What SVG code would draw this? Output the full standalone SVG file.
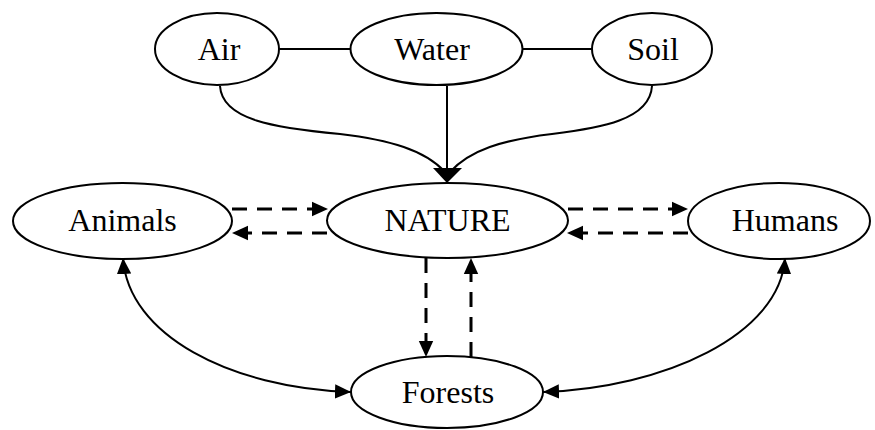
<svg xmlns="http://www.w3.org/2000/svg" width="875" height="430" viewBox="0 0 875 430">
  <style>
    .node ellipse { fill: #ffffff; stroke: #000000; stroke-width: 2; }
    .node text { font-family: "Liberation Serif", "Times New Roman", serif; font-size: 32px; fill: #000000; text-anchor: middle; }
    .solid { fill: none; stroke: #000000; stroke-width: 2; }
    .dash { fill: none; stroke: #000000; stroke-width: 3; stroke-dasharray: 15 10; }
  </style>
  <defs>
    <marker id="head" viewBox="0 0 10 10" refX="10" refY="5" markerUnits="userSpaceOnUse" markerWidth="16" markerHeight="16" orient="auto-start-reverse">
      <path d="M0,0.5 L10,5 L0,9.5 z" fill="#000000" stroke="none"/>
    </marker>
  </defs>

  <rect width="875" height="430" fill="#ffffff"/>

  <g id="connectors">
    <!-- top row links -->
    <line class="solid" x1="279" y1="49" x2="351" y2="49"/>
    <line class="solid" x1="522" y1="49" x2="592" y2="49"/>
    <!-- Air, Water, Soil converge on NATURE -->
    <path class="solid" d="M220,86 C222,120 275,128 340,134 C390,140 425,150 445,172"/>
    <line class="solid" x1="447" y1="86" x2="447" y2="170"/>
    <path class="solid" d="M652,86 C650,120 600,128 552,134 C502,140 470,150 450,172"/>
    <polygon points="433,168 462,168 447,183" fill="#000000"/>
    <!-- Animals <-> NATURE -->
    <line class="dash" x1="232" y1="209" x2="328" y2="209" marker-end="url(#head)"/>
    <line class="dash" x1="327" y1="233" x2="232" y2="233" marker-end="url(#head)"/>
    <!-- NATURE <-> Humans -->
    <line class="dash" x1="568" y1="209" x2="688" y2="209" marker-end="url(#head)"/>
    <line class="dash" x1="688" y1="233" x2="567" y2="233" marker-end="url(#head)"/>
    <!-- NATURE <-> Forests -->
    <line class="dash" x1="426" y1="258" x2="426" y2="357" marker-end="url(#head)"/>
    <line class="dash" x1="471" y1="357" x2="471" y2="258" marker-end="url(#head)"/>
    <!-- Animals <-> Forests, Humans <-> Forests -->
    <path class="solid" d="M123,258 C128,335 230,388 351,392" marker-start="url(#head)" marker-end="url(#head)"/>
    <path class="solid" d="M785,258 C780,335 664,388 543,392" marker-start="url(#head)" marker-end="url(#head)"/>
  </g>

  <g id="air" class="node">
    <ellipse cx="217" cy="49" rx="62" ry="36"/>
    <text x="219" y="60">Air</text>
  </g>
  <g id="water" class="node">
    <ellipse cx="436.5" cy="49" rx="86" ry="36"/>
    <text x="432" y="60">Water</text>
  </g>
  <g id="soil" class="node">
    <ellipse cx="652" cy="49" rx="60" ry="36"/>
    <text x="653" y="60">Soil</text>
  </g>
  <g id="animals" class="node">
    <ellipse cx="122.5" cy="221" rx="109.5" ry="38"/>
    <text x="122.5" y="231">Animals</text>
  </g>
  <g id="nature" class="node">
    <ellipse cx="447.5" cy="220.5" rx="120.5" ry="37.5"/>
    <text x="447.5" y="231">NATURE</text>
  </g>
  <g id="humans" class="node">
    <ellipse cx="779" cy="221" rx="91" ry="38"/>
    <text x="785" y="231">Humans</text>
  </g>
  <g id="forests" class="node">
    <ellipse cx="447" cy="392" rx="96" ry="36"/>
    <text x="448" y="403">Forests</text>
  </g>
</svg>
